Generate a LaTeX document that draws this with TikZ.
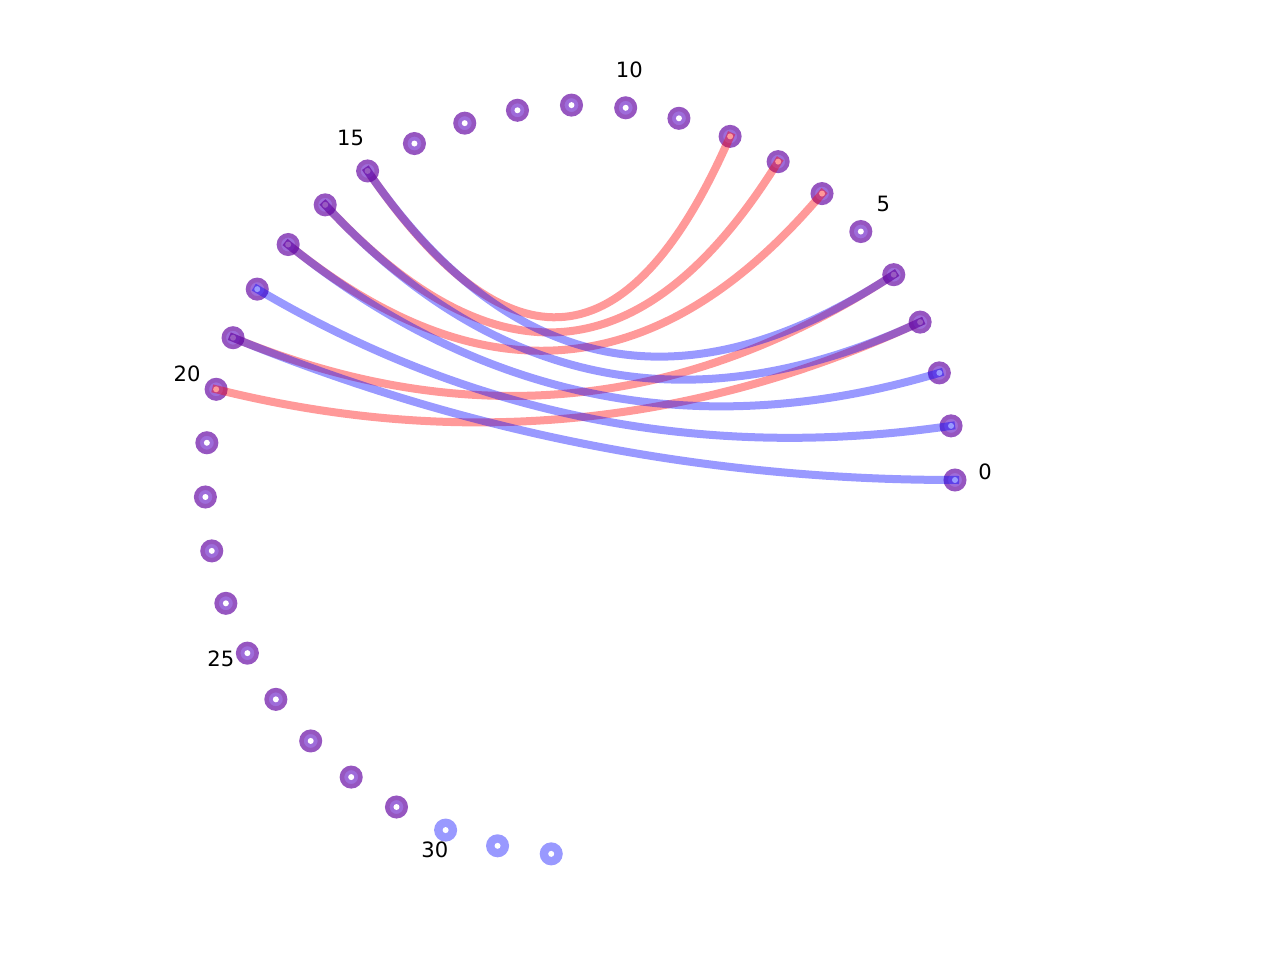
\documentclass[tikz,border=0pt]{standalone}
\usepackage{fontspec}
\setmainfont{DejaVu Sans}
\usetikzlibrary{calc}
\definecolor{ringout}{RGB}{150,86,192}
\definecolor{ringin}{RGB}{158,108,218}
\definecolor{ptblue}{RGB}{153,153,255}
\begin{document}
\begin{tikzpicture}[
  point/.style={circle,draw=ringout,fill=ringin,line width=0.09cm,minimum size=0.37cm,inner sep=0pt,
    path picture={\fill[white] (path picture bounding box.center) circle (0.06);}},
  lone/.style={point,draw=ptblue,fill=ptblue},
  redarc/.style={red,opacity=0.4,line width=0.16cm,line cap=rect},
  bluearc/.style={blue,opacity=0.4,line width=0.16cm,line cap=rect},
  num/.style={font=\fontsize{12}{14}\selectfont}
]
\useasboundingbox (-11.6,-9.6) rectangle (14,9.6);
\coordinate (o) at (0,0);
\foreach \i in {0,...,29}
  \node[point] (n\i) at ({8.3*\i}:7.5) {};
\foreach \i in {30,31,32}
  \node[lone] (n\i) at ({8.3*\i}:7.5) {};
\foreach \a/\b in {8/15,7/16,6/17,4/19,3/20}
  \draw[redarc] (n\a.center) .. controls ($(n\a.center)!2/3!(o)$) and ($(n\b.center)!2/3!(o)$) .. (n\b.center);
\foreach \a/\b in {4/15,3/16,2/17,1/18,0/19}
  \draw[bluearc] (n\a.center) .. controls ($(n\a.center)!2/3!(o)$) and ($(n\b.center)!2/3!(o)$) .. (n\b.center);
\foreach \i in {0,5,...,30}
  \node[num] (l\i) at ($({8.3*\i}:8.1)+(0,0.16)$) {\i};
\end{tikzpicture}
\end{document}
